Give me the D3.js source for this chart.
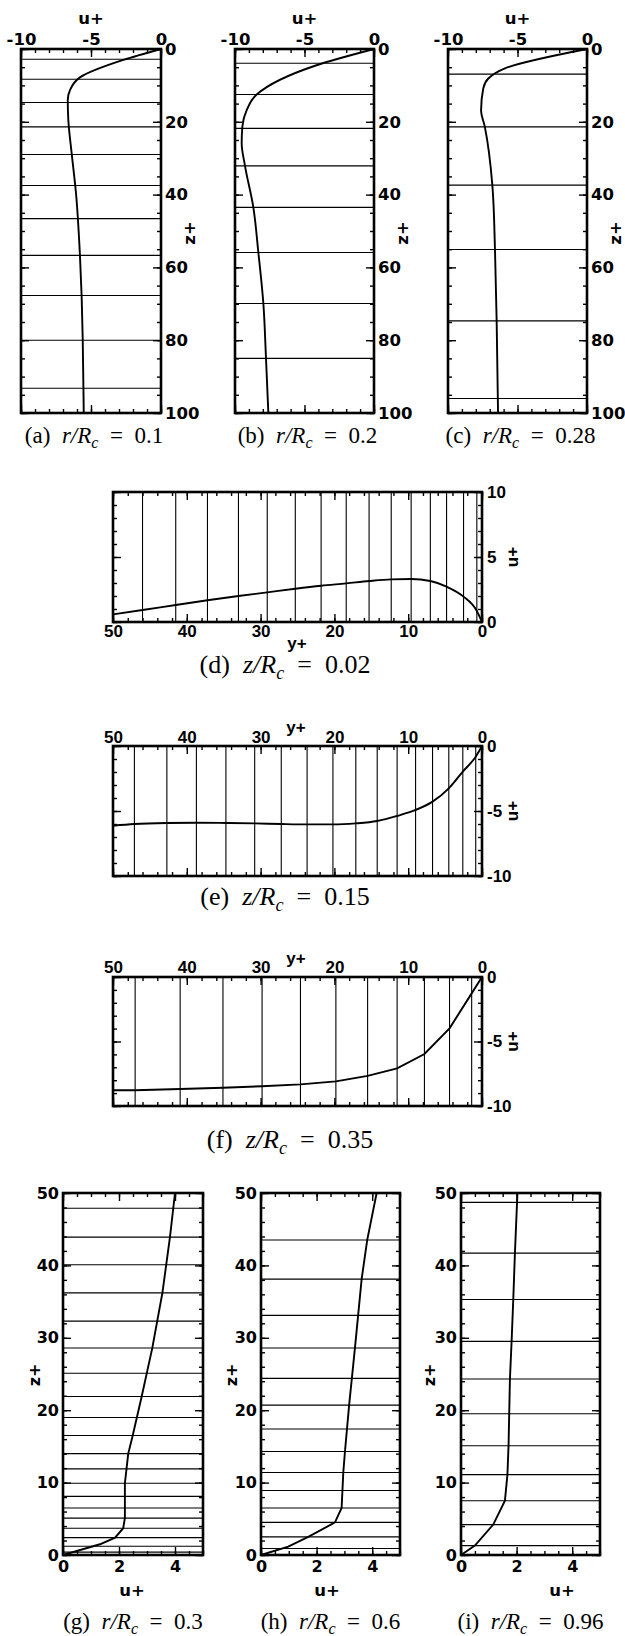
<!DOCTYPE html>
<html>
<head>
<meta charset="utf-8">
<script src="https://cdn.jsdelivr.net/npm/d3@7"></script>
<style>
  body { margin: 0; background: #fff; }
  .cap { font-family: "Liberation Serif", "Times New Roman", serif; font-weight: normal; }
  .ttl { font-weight: bold; }
</style>
</head>
<body>
<svg id="chart" width="625" height="1636"></svg>
<script>
// ---- data ----
// (a) r/Rc = 0.1
const aZ = [0, 3.0, 7.8, 11.3, 14, 19.5, 28.7, 39.7, 56.7, 67.7, 80, 100]
const aU = [0, -2.69, -5.79, -6.5, -6.66, -6.62, -6.38, -6.07, -5.79, -5.67, -5.59, -5.52]
const aGrid = [2.8, 8.3, 14.7, 21.4, 29.0, 37.5, 46.6, 56.7, 67.7, 80.0, 93.2]
// (b) r/Rc = 0.2
const bZ = [0, 4.6, 12.5, 16.8, 21.3, 25.9, 32.1, 43.5, 55.9, 69.9, 85, 100]
const bU = [0, -4.24, -8.44, -9.16, -9.47, -9.52, -9.28, -8.68, -8.32, -7.96, -7.77, -7.6]
const bGrid = [3.9, 12.5, 21.8, 32.1, 43.5, 55.9, 69.9, 85.0]
// (c) r/Rc = 0.28
const cZ = [0, 5.3, 8.1, 10.8, 16.8, 21.4, 37.4, 55.1, 74.7, 100]
const cU = [0, -5.9, -7.1, -7.46, -7.62, -7.35, -6.81, -6.62, -6.5, -6.4]
const cGrid = [6.9, 21.4, 37.4, 55.1, 74.7, 96.0]
// (d) z/Rc = 0.02
const dY = [50, 46.0, 41.5, 37.2, 33.0, 29.1, 25.3, 21.8, 18.4, 15.3, 12.3, 9.6, 7.0, 4.8, 2.5, 0.7, 0]
const dU = [0.59, 0.92, 1.31, 1.67, 2.0, 2.28, 2.56, 2.79, 2.97, 3.15, 3.28, 3.31, 3.15, 2.72, 1.95, 0.85, 0]
const dGrid = [46.0, 41.5, 37.2, 33.0, 29.1, 25.3, 21.8, 18.4, 15.3, 12.3, 9.6, 7.0, 4.8, 2.5, 0.7]
// (e) z/Rc = 0.15
const eY = [50, 47.1, 42.7, 38.7, 34.7, 30.8, 27.2, 23.7, 20.2, 17.1, 14.2, 11.5, 9.0, 6.7, 4.5, 2.6, 0.85, 0]
const eU = [-6.13, -6.0, -5.92, -5.9, -5.92, -5.95, -6.0, -6.03, -6.03, -5.95, -5.77, -5.38, -4.92, -4.28, -3.26, -1.97, -0.82, 0]
const eGrid = [47.1, 42.7, 38.7, 34.7, 30.8, 27.2, 23.7, 20.2, 17.1, 14.2, 11.5, 9.0, 6.7, 4.5, 2.6, 0.85]
// (f) z/Rc = 0.35
const fY = [50, 47.0, 40.9, 35.1, 29.8, 24.6, 19.8, 15.5, 11.5, 7.8, 4.4, 1.4, 0]
const fU = [-8.78, -8.78, -8.68, -8.58, -8.47, -8.32, -8.09, -7.67, -7.08, -5.97, -3.98, -1.27, 0]
const fGrid = [47.0, 40.9, 35.1, 29.8, 24.6, 19.8, 15.5, 11.5, 7.8, 4.4, 1.4]
// (g) r/Rc = 0.3
const gZ = [0, 1.48, 2.4, 3.7, 5.1, 9.9, 14.0, 16.5, 21.9, 28.6, 36.2, 43.9, 50]
const gU = [0, 1.32, 1.86, 2.15, 2.21, 2.21, 2.33, 2.49, 2.81, 3.19, 3.55, 3.82, 4.0]
const gGrid = [0.4, 1.2, 2.4, 3.7, 5.1, 6.5, 8.1, 9.9, 11.9, 14.0, 16.5, 19.0, 21.9, 25.1, 28.6, 32.3, 36.2, 40.1, 43.9, 47.9]
// (h) r/Rc = 0.6
const hZ = [0, 1.15, 2.5, 4.5, 6.5, 11.4, 14.3, 20.7, 28.6, 38.1, 43.5, 50]
const hU = [0, 0.98, 1.7, 2.66, 2.90, 2.96, 3.02, 3.17, 3.38, 3.62, 3.82, 4.16]
const hGrid = [0.9, 2.5, 4.5, 6.5, 8.9, 11.4, 14.3, 17.4, 20.7, 24.4, 28.6, 33.1, 38.1, 43.5]
// (i) r/Rc = 0.96
const iZ = [0, 1.3, 4.2, 7.5, 11.1, 15.1, 24.3, 29.5, 35.3, 41.7, 50]
const iU = [0, 0.5, 1.16, 1.58, 1.67, 1.71, 1.76, 1.82, 1.88, 1.94, 2.03]
const iGrid = [1.3, 4.2, 7.5, 11.1, 15.1, 19.5, 24.3, 29.5, 35.3, 41.7, 48.7]

// tick labels
const uNegTicks = [-10, -5, 0]
const zTicks100 = [0, 20, 40, 60, 80, 100]
const yPlusTicks = [50, 40, 30, 20, 10, 0]
const uPosTicks10 = [0, 5, 10]
const uNegTicks10 = [0, -5, -10]
const uPosTicks5 = [0, 2, 4]
const zTicks50 = [0, 10, 20, 30, 40, 50]

const WIDE = '"DejaVu Sans", Verdana, sans-serif'
const NARROW = '"Liberation Sans", Arial, sans-serif'

const svg = d3.select('#chart')

function sideAxis(g, side, scale, box, major, minor, labeled, fs, pad, font) {
  const make = { top: d3.axisTop, bottom: d3.axisBottom, left: d3.axisLeft, right: d3.axisRight }[side]
  const pos = { top: [0, box.y0], bottom: [0, box.y1], left: [box.x0, 0], right: [box.x1, 0] }[side]
  const [lo, hi] = d3.extent(scale.domain())
  const draw = (vals, len, lab) => {
    vals = vals.filter(v => v >= lo - 1e-9 && v <= hi + 1e-9)
    const ax = make(scale).tickValues(vals).tickSize(-len).tickPadding(pad)
      .tickFormat(d => String(d))
    const a = g.append('g').attr('transform', `translate(${pos[0]},${pos[1]})`).call(ax)
    a.select('.domain').remove()
    a.selectAll('line').attr('stroke', '#000').attr('stroke-width', 1.4)
    if (!lab) a.selectAll('text').remove()
    a.selectAll('text')
      .style('font-family', font)
      .style('font-weight', 'bold').style('font-size', fs + 'px').attr('fill', '#000')
  }
  draw(minor, 4, false)
  draw(major, 8, labeled)
}

function caption(x, y, letter, v, val, fs) {
  const t = svg.append('text').attr('class', 'cap').attr('x', x).attr('y', y)
    .attr('text-anchor', 'middle').style('font-size', fs + 'px')
  t.append('tspan').text('(' + letter + ')\u00A0\u00A0')
  t.append('tspan').style('font-style', 'italic').text(v + '/R')
  t.append('tspan').style('font-style', 'italic').style('font-size', (fs * 0.7) + 'px').attr('dy', fs * 0.22).text('c')
  t.append('tspan').attr('dy', -fs * 0.22).text('\u00A0\u00A0=\u00A0\u00A0' + val)
}

function title(x, y, txt, fs, rot, font) {
  svg.append('text').attr('class', 'ttl')
    .attr('transform', `translate(${x},${y}) rotate(${rot || 0})`)
    .attr('text-anchor', 'middle').attr('dy', '0.35em')
    .style('font-family', font).style('font-size', fs + 'px').text(txt)
}

function panel(p) {
  const box = p.box
  const x = d3.scaleLinear().domain(p.xDom).range([box.x0, box.x1])
  const y = d3.scaleLinear().domain(p.yDom).range([box.y0, box.y1])
  const g = svg.append('g')

  // mesh lines
  if (p.vertical) {
    g.selectAll('.grid').data(p.grid).enter().append('line')
      .attr('x1', box.x0).attr('x2', box.x1)
      .attr('y1', d => y(d)).attr('y2', d => y(d))
      .attr('stroke', '#000').attr('stroke-width', 1.1)
  } else {
    g.selectAll('.grid').data(p.grid).enter().append('line')
      .attr('y1', box.y0).attr('y2', box.y1)
      .attr('x1', d => x(d)).attr('x2', d => x(d))
      .attr('stroke', '#000').attr('stroke-width', 1.1)
  }

  // profile
  const pts = p.xs.map((d, k) => [d, p.ys[k]])
  const line = d3.line().x(d => x(d[0])).y(d => y(d[1])).curve(p.curve || d3.curveLinear)
  g.append('path').datum(pts).attr('d', line)
    .attr('fill', 'none').attr('stroke', '#000').attr('stroke-width', 1.9)

  // ticks on all four sides
  sideAxis(g, p.xSide, x, box, p.xMajor, p.xMinor, true, p.fs, p.xPad, p.font)
  sideAxis(g, p.xSide === 'top' ? 'bottom' : 'top', x, box, p.xMajor, p.xMinor, false, p.fs, 0, p.font)
  sideAxis(g, p.ySide, y, box, p.yMajor, p.yMinor, true, p.fs, p.yPad, p.font)
  sideAxis(g, p.ySide === 'left' ? 'right' : 'left', y, box, p.yMajor, p.yMinor, false, p.fs, 0, p.font)

  g.append('rect').attr('x', box.x0).attr('y', box.y0)
    .attr('width', box.x1 - box.x0).attr('height', box.y1 - box.y0)
    .attr('fill', 'none').attr('stroke', '#000').attr('stroke-width', 2.6)
}

// ---- top row: u+ along the top, z+ down the right ----
const topRow = [
  { box: { x0: 21, x1: 161, y0: 49, y1: 413 }, xs: aU, ys: aZ, grid: aGrid, letter: 'a', val: '0.1' },
  { box: { x0: 235, x1: 374, y0: 49, y1: 413 }, xs: bU, ys: bZ, grid: bGrid, letter: 'b', val: '0.2' },
  { box: { x0: 448, x1: 587, y0: 49, y1: 413 }, xs: cU, ys: cZ, grid: cGrid, letter: 'c', val: '0.28' }
]
topRow.forEach(p => {
  panel(Object.assign({
    vertical: true, xDom: [-10, 0], yDom: [0, 100],
    xSide: 'top', ySide: 'right', xMajor: uNegTicks, xMinor: d3.range(-10, 0.1, 1),
    yMajor: zTicks100, yMinor: d3.range(0, 101, 5), fs: 16.5, xPad: 4, yPad: 4,
    curve: d3.curveMonotoneY, font: WIDE
  }, p))
  const cx = (p.box.x0 + p.box.x1) / 2
  title(cx, 18, 'u+', 16.5, 0, WIDE)
  title(p.box.x1 + 28, 233, 'z+', 16.5, -90, WIDE)
  caption(cx + 3, 443, p.letter, 'r', p.val, 23)
})

// ---- middle: u+ against y+ ----
const midRow = [
  { box: { x0: 113, x1: 482, y0: 492, y1: 622 }, xs: dY, ys: dU, grid: dGrid, yDom: [10, 0],
    xSide: 'bottom', yMajor: uPosTicks10, xPad: 3, curve: d3.curveMonotoneX, letter: 'd', val: '0.02' },
  { box: { x0: 113, x1: 482, y0: 746, y1: 876 }, xs: eY, ys: eU, grid: eGrid, yDom: [0, -10],
    xSide: 'top', yMajor: uNegTicks10, xPad: 3, curve: d3.curveMonotoneX, letter: 'e', val: '0.15' },
  { box: { x0: 113, x1: 482, y0: 977, y1: 1106 }, xs: fY, ys: fU, grid: fGrid, yDom: [0, -10],
    xSide: 'top', yMajor: uNegTicks10, xPad: 4, curve: d3.curveLinear, letter: 'f', val: '0.35' }
]
midRow.forEach(p => {
  panel(Object.assign({
    vertical: false, xDom: [50, 0], ySide: 'right',
    xMajor: yPlusTicks, xMinor: d3.range(0, 51, 2), yMinor: d3.range(-10, 10.1, 1),
    fs: 17, yPad: 5, font: NARROW
  }, p))
  const b = p.box
  const cy = (b.y0 + b.y1) / 2
  title(b.x1 + 30, cy, 'u+', 17, -90, NARROW)
  if (p.xSide === 'bottom') title(297, b.y1 + 21, 'y+', 17, 0, NARROW)
  else title(296, b.y0 - 19, 'y+', 17, 0, NARROW)
})
caption(285, 673, 'd', 'z', '0.02', 26)
caption(285, 905, 'e', 'z', '0.15', 26)
caption(290, 1148, 'f', 'z', '0.35', 26)

// ---- bottom row: z+ up the left, u+ along the bottom ----
const botRow = [
  { box: { x0: 63, x1: 203, y0: 1193, y1: 1555 }, xs: gU, ys: gZ, grid: gGrid, zx: 34, ux: 132, letter: 'g', val: '0.3' },
  { box: { x0: 261, x1: 400, y0: 1193, y1: 1555 }, xs: hU, ys: hZ, grid: hGrid, zx: 231, ux: 327, letter: 'h', val: '0.6' },
  { box: { x0: 461, x1: 600, y0: 1193, y1: 1555 }, xs: iU, ys: iZ, grid: iGrid, zx: 429, ux: 562, letter: 'i', val: '0.96' }
]
botRow.forEach(p => {
  panel(Object.assign({
    vertical: true, xDom: [0, 5], yDom: [50, 0],
    xSide: 'bottom', ySide: 'left', xMajor: uPosTicks5, xMinor: d3.range(0, 5.01, 0.5),
    yMajor: zTicks50, yMinor: d3.range(0, 51, 2), fs: 16, xPad: 6, yPad: 4, font: WIDE
  }, p))
  title(p.zx, 1375, 'z+', 16, -90, WIDE)
  title(p.ux, 1590, 'u+', 16.5, 0, WIDE)
  caption((p.box.x0 + p.box.x1) / 2, 1629, p.letter, 'r', p.val, 23)
})
</script>
</body>
</html>
